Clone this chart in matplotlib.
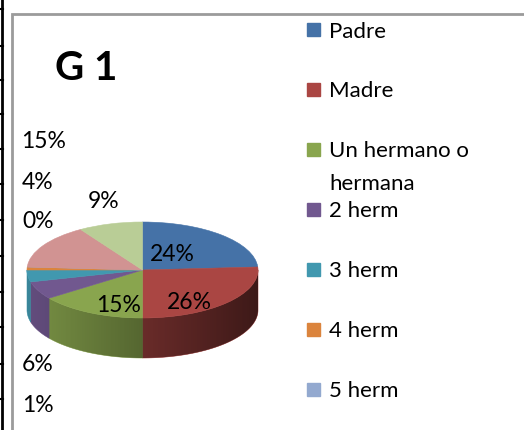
import matplotlib
matplotlib.use("Agg")
import matplotlib.pyplot as plt
import numpy as np
from matplotlib.patches import Rectangle, Polygon

# data (last two slices have their legend rows cut off)
legend_labels = ["Padre", "Madre", "Un hermano o\nhermana", "2 herm", "3 herm", "4 herm", "5 herm"]
values = [24, 26, 15, 6, 4, 1, 0, 15, 9]
colors = ["#4572A7", "#AA4643", "#89A54E", "#71588F", "#4198AF",
          "#DB843D", "#93A9CF", "#D19392", "#B9CD96"]
title = "G 1"

# layout, in pixels of the 524x431 picture
W, H = 524, 431
cx, cy = 142.5, 271       # centre of the top face
rx, ry = 115.5, 48        # radii of the top face
depth = 40                # thickness of the pie
label_xy = [(172, 254), (189, 302), (119, 305), (38, 364), (38, 182),
            (38, 405), (38, 221), (44, 141), (104, 201)]

plt.rcParams["font.family"] = ["Lato", "DejaVu Sans"]

fig = plt.figure(figsize=(W / 100, H / 100), dpi=100)

# pie axes
d = depth / ry
ax = fig.add_axes([(cx - rx) / W, (H - (cy + ry + depth)) / H, 2 * rx / W, (2 * ry + depth) / H])
wedges, _ = ax.pie(values, colors=colors, startangle=90, counterclock=False,
                   wedgeprops=dict(linewidth=0.4))
for w in wedges:
    w.set_edgecolor(w.get_facecolor())
    w.set_zorder(3)
    w.set_clip_on(False)

# side of the pie (front half only), one polygon per slice
cum = np.concatenate([[0], np.cumsum(values)]) / sum(values)
for i, c in enumerate(colors):
    a0, a1 = 90 - 360 * cum[i + 1], 90 - 360 * cum[i]
    lo, hi = max(a0, -180), min(a1, 0)
    if hi <= lo:
        continue
    t = np.radians(np.linspace(lo, hi, 60))
    pts = np.vstack([np.column_stack([np.cos(t), np.sin(t)]),
                     np.column_stack([np.cos(t[::-1]), np.sin(t[::-1]) - d])])
    ax.add_patch(Polygon(pts, closed=True, facecolor=c, edgecolor=c, lw=0.4,
                         zorder=1, clip_on=False))

# darken the side from left to right
t = np.radians(np.linspace(-180, 0, 200))
outline = np.vstack([np.column_stack([np.cos(t), np.sin(t)]),
                     np.column_stack([np.cos(t[::-1]), np.sin(t[::-1]) - d])])
clip = Polygon(outline, closed=True, transform=ax.transData)
xs = np.linspace(-1, 1, 300)
shade = np.zeros((1, 300, 4))
shade[0, :, 3] = 1 - np.clip(0.62 - 0.26 * xs, 0.3, 0.95)
img = ax.imshow(shade, extent=(-1, 1, -1 - d, 0), aspect="auto", zorder=2,
                interpolation="bilinear")
img.set_clip_path(clip)

ax.set_aspect("auto")
ax.set_xlim(-1, 1)
ax.set_ylim(-1 - d, 1)
ax.axis("off")

# overlay for frame, texts and legend, in pixel coordinates
bg = fig.add_axes([0, 0, 1, 1])
bg.set_xlim(0, W)
bg.set_ylim(H, 0)
bg.axis("off")

# spreadsheet border on the far left
bg.plot([2, 2], [0, H], color="black", lw=2)
for y in [10, 47, 81, 115, 150, 185, 221, 257, 293, 328, 365, 400]:
    bg.plot([0, 3], [y, y], color="black", lw=1.5)

# chart frame
bg.plot([12, 12, W], [H, 15, 15], color="#9B9B9B", lw=2, solid_joinstyle="miter")

bg.text(55, 80, title, fontsize=29, fontweight="bold", va="baseline", ha="left")

# percentage labels
for v, (x, y) in zip(values, label_xy):
    bg.text(x, y + 7.5, f"{v}%", fontsize=16.5, ha="center", va="baseline", color="black")

# legend (cut off at the bottom like the original)
for i, lab in enumerate(legend_labels):
    y = 30 + 60 * i
    bg.add_patch(Rectangle((307, y - 6.5), 13, 13, color=colors[i]))
    for k, line in enumerate(lab.split("\n")):
        bg.text(329, y + 7.5 + 33 * k, line, fontsize=16, ha="left", va="baseline", color="black")

fig.savefig("out.png", dpi=100)
